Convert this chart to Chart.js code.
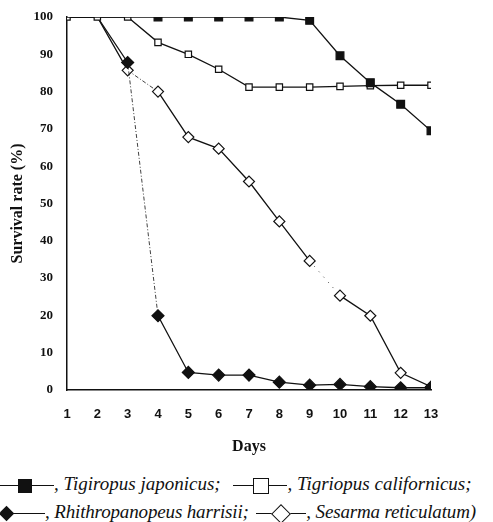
<!DOCTYPE html>
<html>
<head>
<meta charset="utf-8">
<script src="https://cdn.jsdelivr.net/npm/chart.js@4.4.1/dist/chart.umd.min.js"></script>
<style>
  body { margin: 0; background: #fff; }
  #wrap { position: relative; width: 493px; height: 522px; overflow: hidden; }
  #chart { position: absolute; left: 0; top: 0; }
  .row { position: absolute; white-space: nowrap; font: italic 19px "Liberation Serif", serif; line-height: 19px; color: #111; }
  .mk { display: inline-block; position: relative; height: 14px; vertical-align: middle; }
  .mk .ln { position: absolute; left: 0; right: 0; top: 6px; height: 1.5px; background: #111; }
  .mk .box { position: absolute; box-sizing: border-box; }
  .filled { background: #111; }
  .open { background: #fff; border: 1.5px solid #111; }
</style>
</head>
<body>
<div id="wrap">
  <canvas id="chart" width="493" height="460"></canvas>
  <div class="row" style="left:0; top:474px;">
    <span class="mk" style="width:54px"><span class="ln"></span><span class="box filled" style="left:18px; top:0; width:14px; height:14px"></span></span>, Tigiropus japonicus; <span class="mk" style="width:54px; margin-left:8px"><span class="ln"></span><span class="box open" style="left:20px; top:-1px; width:16px; height:16px"></span></span>, Tigriopus californicus;
  </div>
  <div class="row" style="left:-15px; top:502px; letter-spacing:-0.15px;">
    <span class="mk" style="width:60px"><span class="ln"></span><span class="box filled" style="left:16px; top:1px; width:11px; height:11px; transform:rotate(45deg)"></span></span>, Rhithropanopeus harrisii; <span class="mk" style="width:50px; margin-left:3px"><span class="ln"></span><span class="box open" style="left:18px; top:0; width:14px; height:14px; transform:rotate(45deg)"></span></span>, Sesarma reticulatum)
  </div>
</div>
<script>
// survival (%) per day
const days = [1, 2, 3, 4, 5, 6, 7, 8, 9, 10, 11, 12, 13];
const japonicus = [100, 100, 100, 100, 100, 100, 100, 100, 99.1, 89.6, 82.4, 76.6, 69.5];
const californicus = [100, 100, 100, 93.2, 90, 86, 81.2, 81.2, 81.2, 81.4, 81.6, 81.7, 81.7];
const harrisii = [100, 100, 87.8, 19.9, 4.7, 4.0, 4.0, 2.1, 1.3, 1.5, 0.9, 0.6, 0.6];
const reticulatum = [100, 100, 85.7, 80.0, 67.8, 64.7, 55.9, 45.2, 34.6, 25.3, 19.9, 4.6, 0.9];

const ink = '#111';

function points(values) {
  return values.map((v, i) => ({ x: days[i], y: v }));
}

function series(values, style, fill, radius, hideBefore, dashAt) {
  return {
    data: points(values),
    borderColor: ink,
    borderWidth: 1.3,
    backgroundColor: fill,
    pointStyle: style,
    pointBackgroundColor: fill,
    pointBorderColor: ink,
    pointBorderWidth: 1.2,
    pointRadius: ctx => ctx.dataIndex < hideBefore ? 0 : radius,
    tension: 0,
    segment: {
      borderDash: ctx => dashAt[ctx.p0DataIndex],
      borderWidth: ctx => dashAt[ctx.p0DataIndex] ? 0.8 : undefined
    }
  };
}

new Chart(document.getElementById('chart'), {
  type: 'line',
  data: {
    datasets: [
      series(japonicus, 'rect', ink, 5.5, 3, {}),
      series(californicus, 'rect', '#fff', 4.5, 0, {}),
      series(harrisii, 'rectRot', ink, 6, 2, { 2: [4, 2, 1, 2] }),
      series(reticulatum, 'rectRot', '#fff', 5.5, 2, { 2: [4, 2, 1, 2], 8: [1, 6] })
    ]
  },
  options: {
    responsive: false,
    animation: false,
    layout: { padding: { top: 17, right: 62, left: 0, bottom: 0 } },
    plugins: { legend: { display: false }, tooltip: { enabled: false } },
    scales: {
      x: {
        type: 'linear', min: 1, max: 13,
        grid: { display: false },
        border: { color: ink, width: 1.5 },
        ticks: { stepSize: 1, padding: 9, color: ink, font: { family: 'Liberation Sans', weight: 'bold', size: 13 } },
        title: { display: true, text: 'Days', color: ink, padding: { top: 0, bottom: 4 },
          font: { family: 'Liberation Serif', weight: 'bold', size: 16 } },
        afterFit: s => { s.height = 70; }
      },
      y: {
        min: 0, max: 100,
        grid: { display: false },
        border: { color: ink, width: 1.5 },
        ticks: { stepSize: 10, padding: 6, color: ink, font: { family: 'Liberation Serif', weight: 'bold', size: 13 } },
        title: { display: true, text: 'Survival rate (%)', color: ink, padding: { top: 8, bottom: 0 },
          font: { family: 'Liberation Serif', weight: 'bold', size: 16 } },
        afterFit: s => { s.width = 67; }
      }
    }
  }
});
</script>
</body>
</html>
